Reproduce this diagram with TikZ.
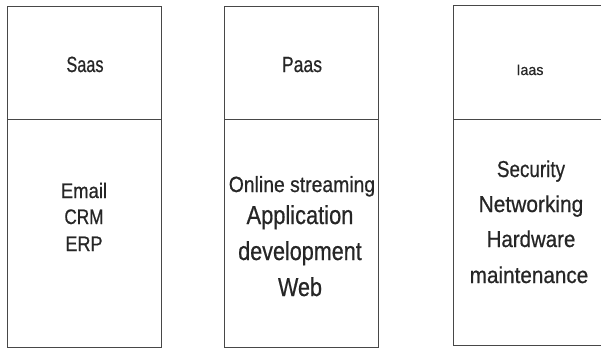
\documentclass[tikz,border=0pt]{standalone}
\usepackage{graphicx}
\usepackage{fontspec}
\setmainfont{Liberation Sans}
% slightly heavier face for the cell texts
\newfontfamily\cellfont[FakeBold=0.7]{Liberation Sans}
\begin{document}
\begin{tikzpicture}[x=1pt,y=-1pt,
  cell/.style={draw=black!72, line width=1.4pt, minimum width=154pt,
    inner sep=0pt, anchor=north west},
  lbl/.style={anchor=base, inner sep=0pt, text=black!85},
  head/.style={lbl, font=\cellfont\fontsize{22}{22}\selectfont},
  body/.style={lbl, font=\cellfont\fontsize{#1}{#1}\selectfont}]
\useasboundingbox (0,0) rectangle (601,349);

% three service columns: header cell above, content cell below
\node[cell, minimum height=113pt] (saasHead) at (7,6) {};
\node[cell, minimum height=228pt] (saasBody) at (7,119) {};
\node[cell, minimum height=113pt] (paasHead) at (224,6) {};
\node[cell, minimum height=228pt] (paasBody) at (224,119) {};
\node[cell, minimum height=114pt] (iaasHead) at (453,5) {};
\node[cell, minimum height=226pt] (iaasBody) at (453,119) {};

% headers
\node[head] (saasT) at (85,72) {\scalebox{0.74}[1]{Saas}};
\node[head] (paasT) at (302,72) {\scalebox{0.8}[1]{Paas}};
\node[lbl, font=\cellfont\fontsize{15}{15}\selectfont] (iaasT) at (530,75) {\scalebox{0.95}[1]{Iaas}};

% SaaS examples
\node[body=21] (s1) at (84,198) {\scalebox{0.88}[1]{Email}};
\node[body=21] (s2) at (84,224) {\scalebox{0.82}[1]{CRM}};
\node[body=21] (s3) at (84,251) {\scalebox{0.86}[1]{ERP}};

% PaaS examples
\node[body=22] (p1) at (302,192) {\scalebox{0.88}[1]{Online streaming}};
\node[body=26] (p2) at (300,224) {\scalebox{0.84}[1]{Application}};
\node[body=26] (p3) at (300,260) {\scalebox{0.83}[1]{development}};
\node[body=26] (p4) at (300,296) {\scalebox{0.83}[1]{Web}};

% IaaS examples
\node[body=23] (i1) at (531,177) {\scalebox{0.82}[1]{Security}};
\node[body=23] (i2) at (531,212) {\scalebox{0.91}[1]{Networking}};
\node[body=23] (i3) at (531,247) {\scalebox{0.89}[1]{Hardware}};
\node[body=23] (i4) at (529,283) {\scalebox{0.9}[1]{maintenance}};
\end{tikzpicture}
\end{document}
